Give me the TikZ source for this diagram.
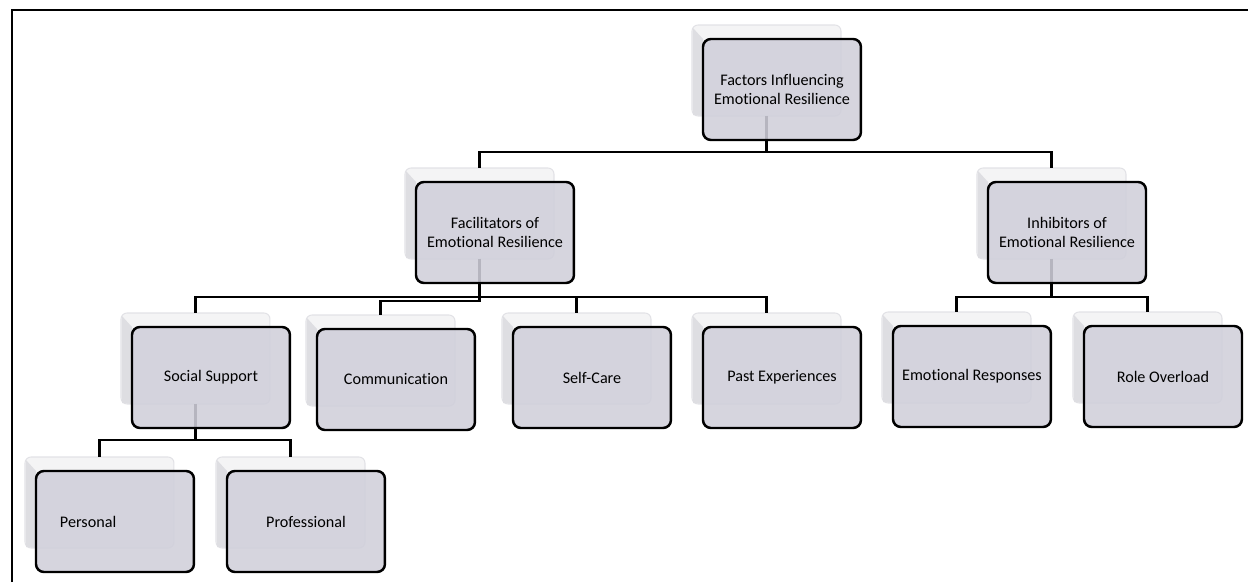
\documentclass[tikz,border=0pt]{standalone}
\usepackage{fontspec}
\setmainfont{Carlito}[Ligatures=NoCommon]
\usetikzlibrary{calc}
\definecolor{boxfill}{RGB}{208,207,218}
\definecolor{backfill}{RGB}{244,244,245}
\definecolor{backedge}{RGB}{226,226,230}
\definecolor{bevelfill}{RGB}{222,222,226}
\tikzset{
  back/.style={draw=backedge,fill=backfill,line width=0.6pt,rounded corners=3.4pt,
    minimum width=2.98cm,minimum height=1.82cm,inner sep=0pt,outer sep=0pt,anchor=north west},
  card/.style={draw=black,line width=1.4pt,fill=boxfill,fill opacity=0.88,text opacity=1,
    rounded corners=4.5pt,minimum width=3.16cm,minimum height=2.02cm,inner sep=0pt,outer sep=0pt,
    align=center,anchor=north west,font=\fontsize{9.2}{10.5}\selectfont},
  leftcard/.style={card,align=left,inner xsep=0.48cm,text width=2.2cm},
  conn/.style={line width=1.4pt}
}
% back card with its grey bevel on the left
\newcommand{\backcard}[3]{%
  \node[back] (#1) at (#2,#3) {};
  \fill[bevelfill] ([shift={(1,3)}]#1.north west) -- ++(10,11)
    -- ([shift={(11,0)}]#1.south west) -- ([shift={(1,-1)}]#1.south west) -- cycle;}

\begin{document}
\begin{tikzpicture}[x=0.02cm,y=-0.02cm]
\useasboundingbox (0,0) rectangle (1248,582);
\draw[line width=1.1pt] (12,582) -- (12,10) -- (1248,10);

% back cards
\backcard{top-s}{692}{25}
\backcard{fac-s}{405}{168}
\backcard{inh-s}{977}{168}
\backcard{soc-s}{121}{313}
\backcard{com-s}{306}{315}
\backcard{self-s}{502}{313}
\backcard{past-s}{692}{313}
\backcard{emo-s}{882}{312}
\backcard{role-s}{1073}{312}
\backcard{pers-s}{25}{457}
\backcard{prof-s}{216}{457}

% connectors
\draw[conn] (top-s.south) -- ++(0,36) -| (fac-s.north);
\draw[conn] (top-s.south) -- ++(0,36) -| (inh-s.north);
\draw[conn] (fac-s.south) -- ++(0,38) -| (soc-s.north);
\draw[conn] (fac-s.south) -- ++(0,42) -| (com-s.north);
\draw[conn] (fac-s.south) -- ++(0,38) -| (self-s.north);
\draw[conn] (fac-s.south) -- ++(0,38) -| (past-s.north);
\draw[conn] (inh-s.south) -- ++(0,38) -| (emo-s.north);
\draw[conn] (inh-s.south) -- ++(0,38) -| (role-s.north);
\draw[conn] (soc-s.south) -- ++(0,36) -| (pers-s.north);
\draw[conn] (soc-s.south) -- ++(0,36) -| (prof-s.north);

% front cards
\node[card] (top) at (703,39) {Factors Influencing\\Emotional Resilience};
\node[card] (fac) at (416,182) {Facilitators of\\Emotional Resilience};
\node[card] (inh) at (988,182) {Inhibitors of\\Emotional Resilience};
\node[card] (soc) at (132,327) {Social Support};
\node[card] (com) at (317,329) {Communication};
\node[card] (self) at (513,327) {Self-Care};
\node[card] (past) at (703,327) {Past Experiences};
\node[card] (emo) at (893,326) {Emotional Responses};
\node[card] (role) at (1084,326) {Role Overload};
\node[leftcard] (pers) at (36,471) {Personal};
\node[card] (prof) at (227,471) {Professional};
\end{tikzpicture}
\end{document}
